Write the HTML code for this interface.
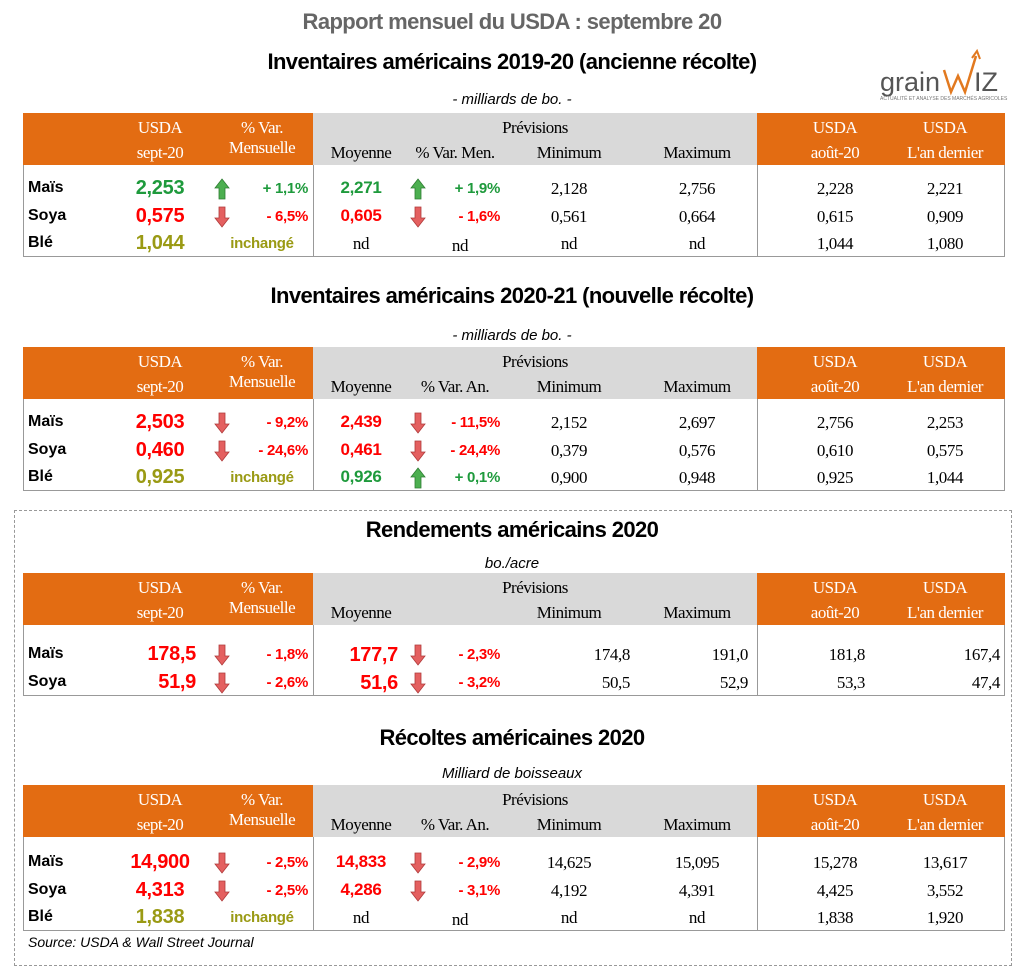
<!DOCTYPE html>
<html><head><meta charset="utf-8"><style>
body{margin:0;width:1024px;height:980px;background:#fff;position:relative;overflow:hidden;font-family:"Liberation Sans",sans-serif}
.a{position:absolute;white-space:nowrap;line-height:1}
.t{font-weight:bold;font-size:22px;color:#000;letter-spacing:-0.6px;text-align:center;width:1024px;left:0}
.sub{font-style:italic;font-size:15px;color:#000;text-align:center;width:1024px;left:0}
.h{font-family:"Liberation Serif",serif;font-size:17px;letter-spacing:-0.5px}
.s{font-family:"Liberation Serif",serif;font-size:17px;color:#000;letter-spacing:-0.4px}
.m{font-weight:bold;font-size:20px;letter-spacing:-0.3px}
.p{font-weight:bold;font-size:15px;letter-spacing:-0.3px}
.lbl{font-weight:bold;font-size:16px;color:#000}
</style></head><body>
<div class="a t" style="top:11px;color:#666">Rapport mensuel du USDA : septembre 20</div>
<div style="position:absolute;left:14px;top:510px;width:998px;height:456px;border:1px dashed #999;box-sizing:border-box"></div>
<div style="position:absolute;left:878px;top:46px;width:130px;height:60px">
<svg width="130" height="60"><polyline points="66,24 73,46 80,30 87,46 98,10" fill="none" stroke="#e2791f" stroke-width="2.5"/><polyline points="94,12 99,5 102,13" fill="none" stroke="#e2791f" stroke-width="2"/>
<text x="2" y="45" font-family="Liberation Sans" font-size="27" fill="#555">grain</text><text x="96" y="45" font-family="Liberation Sans" font-size="27" fill="#555">IZ</text>
<text x="2" y="54" font-family="Liberation Sans" font-size="5" fill="#777">ACTUALITÉ ET ANALYSE DES MARCHÉS AGRICOLES</text></svg></div>
<div class="a" style="left:28px;top:935px;font-style:italic;font-size:14px">Source: USDA &amp; Wall Street Journal</div>
<script>
var titles=["Inventaires américains 2019-20 (ancienne récolte)","Inventaires américains 2020-21 (nouvelle récolte)","Rendements américains 2020","Récoltes américaines 2020"];
var subtitles=["- milliards de bo. -","- milliards de bo. -","bo./acre","Milliard de boisseaux"];
var varLabels=["% Var. Men.","% Var. An.","","% Var. An."];
var labels=[["Maïs","Soya","Blé"],["Maïs","Soya","Blé"],["Maïs","Soya"],["Maïs","Soya","Blé"]];
var usda=[["2,253","0,575","1,044"],["2,503","0,460","0,925"],["178,5","51,9"],["14,900","4,313","1,838"]];
var usdaVar=[["+ 1,1%","- 6,5%","inchangé"],["- 9,2%","- 24,6%","inchangé"],["- 1,8%","- 2,6%"],["- 2,5%","- 2,5%","inchangé"]];
var moy=[["2,271","0,605","nd"],["2,439","0,461","0,926"],["177,7","51,6"],["14,833","4,286","nd"]];
var moyVar=[["+ 1,9%","- 1,6%","nd"],["- 11,5%","- 24,4%","+ 0,1%"],["- 2,3%","- 3,2%"],["- 2,9%","- 3,1%","nd"]];
var mins=[["2,128","0,561","nd"],["2,152","0,379","0,900"],["174,8","50,5"],["14,625","4,192","nd"]];
var maxs=[["2,756","0,664","nd"],["2,697","0,576","0,948"],["191,0","52,9"],["15,095","4,391","nd"]];
var aout=[["2,228","0,615","1,044"],["2,756","0,610","0,925"],["181,8","53,3"],["15,278","4,425","1,838"]];
var lastYr=[["2,221","0,909","1,080"],["2,253","0,575","1,044"],["167,4","47,4"],["13,617","3,552","1,920"]];
var tops=[113,347,573,785];
var titleY=[62,296,530,738];
var subY=[100,336,564,774];
var rowH=[27.5,27.5,27.5,27.5];
var firstRow=[189,423,655,863];

var GREEN="#1e9a3c",RED="#ff0000",OLIVE="#9a9a14";
function col(v){if(v==="inchangé")return OLIVE;if(v.charAt(0)==="+")return GREEN;return RED;}
function mk(cls,txt,x,y,w,align,color,name){
 var d=document.createElement('div');d.className='a '+cls;d.textContent=txt;
 d.style.left=(align==='center'?x-w/2:(align==='right'?x-w:x))+'px';d.style.top=y+'px';d.style.width=w+'px';d.style.textAlign=align;
 if(color)d.style.color=color;
 
 
 document.body.appendChild(d);return d;}
function box(x,y,w,h,bg,name,extra){var d=document.createElement('div');d.style.cssText='position:absolute;left:'+x+'px;top:'+y+'px;width:'+w+'px;height:'+h+'px;background:'+bg+';'+(extra||'');
 
 
 document.body.appendChild(d);return d;}
function arrow(x,y,up,name){var ns="http://www.w3.org/2000/svg";var s=document.createElementNS(ns,'svg');s.setAttribute('width','16');s.setAttribute('height','22');s.style.cssText='position:absolute;left:'+(x-8)+'px;top:'+(y-1)+'px';
 var p=document.createElementNS(ns,'polygon');p.setAttribute('points',up?'8,1 15,10 11,10 11,21 5,21 5,10 1,10':'8,21 15,12 11,12 11,1 5,1 5,12 1,12');
 p.setAttribute('fill',up?'#4caf50':'#e46060');p.setAttribute('stroke',up?'#2e7d32':'#b03a3a');p.setAttribute('stroke-width','0.8');s.appendChild(p);
 
 
 document.body.appendChild(s);}
for(var t=0;t<4;t++){
 var T=tops[t];
 mk('t',titles[t],512,titleY[t]-11,1024,'center','#000','section-title');
 mk('sub',subtitles[t],512,subY[t]-8,1024,'center','#000','section-subtitle');
 box(23,T,290,52,'#e36c12','header-orange-left');
 box(313,T,444,52,'#d9d9d9','header-gray');
 box(757,T,248,52,'#e36c12','header-orange-right');
 var n=labels[t].length;var bodyB=firstRow[t]+rowH[t]*(n-1)+13;
 box(23,T+52,982,bodyB-T-52,'transparent','table-body','border:1px solid #999;border-top:none;box-sizing:border-box;');
 box(313,T+52,1,bodyB-T-52,'#999','divider-left');
 box(757,T+52,1,bodyB-T-52,'#999','divider-right');
 var y1=T+6,y2=T+31;
 mk('h','USDA',160,y1,100,'center','#fff','header-usda');
 mk('h','sept-20',160,y2,100,'center','#fff','header-sept');
 mk('h','% Var.',262,y1,100,'center','#fff','header-var');
 mk('h','Mensuelle',262,y2-5,100,'center','#fff','header-mensuelle');
 mk('h','Prévisions',535,y1,150,'center','#000','header-previsions');
 mk('h','Moyenne',361,y2,100,'center','#000','header-moyenne');
 if(varLabels[t])mk('h',varLabels[t],455,y2,110,'center','#000','header-var-prev');
 mk('h','Minimum',569,y2,100,'center','#000','header-minimum');
 mk('h','Maximum',697,y2,100,'center','#000','header-maximum');
 mk('h','USDA',835,y1,100,'center','#fff','header-usda-aout');
 mk('h','août-20',835,y2,100,'center','#fff','header-aout');
 mk('h','USDA',945,y1,100,'center','#fff','header-usda-last');
 mk('h',"L'an dernier",945,y2,110,'center','#fff','header-last-year');
 for(var r=0;r<n;r++){
  var cy=firstRow[t]+rowH[t]*r;
  mk('lbl',labels[t][r],28,cy-9,60,'left','#000','row-label');
  var uv=usdaVar[t][r],mv=moyVar[t][r];
  var uc=col(uv);
  var mainC=(r===n-1&&uv==="inchangé")?OLIVE:uc;
  if(t===2)mk('m',usda[t][r],196,cy-11,120,'right',mainC,'usda-value');
  else mk('m',usda[t][r],160,cy-11,120,'center',mainC,'usda-value');
  if(uv==="inchangé")mk('p',uv,262,cy-8,100,'center',OLIVE,'usda-var');
  else{arrow(222,cy-10,uv.charAt(0)==="+",'usda-arrow');mk('p',uv,308,cy-8,100,'right',uc,'usda-var');}
  if(moy[t][r]==="nd"){
   mk('s','nd',361,cy-9,60,'center','#000','avg-value');
   mk('s','nd',460,cy-7,60,'center','#000','avg-var');
  } else {
   var mc=col(mv);
   if(t===2)mk('m',moy[t][r],398,cy-10,100,'right',mc,'avg-value');
   else mk('m',moy[t][r],361,cy-10,100,'center',mc,'avg-value').style.fontSize='17px';
   arrow(418,cy-10,mv.charAt(0)==="+",'avg-arrow');
   mk('p',mv,500,cy-8,100,'right',mc,'avg-var');
  }
  if(t===2){
   mk('s',mins[t][r],630,cy-9,100,'right','#000','min-value');
   mk('s',maxs[t][r],748,cy-9,100,'right','#000','max-value');
   mk('s',aout[t][r],865,cy-9,100,'right','#000','aout-value');
   mk('s',lastYr[t][r],1000,cy-9,100,'right','#000','last-year-value');
  } else {
   mk('s',mins[t][r],569,cy-9,100,'center','#000','min-value');
   mk('s',maxs[t][r],697,cy-9,100,'center','#000','max-value');
   mk('s',aout[t][r],835,cy-9,100,'center','#000','aout-value');
   mk('s',lastYr[t][r],945,cy-9,100,'center','#000','last-year-value');
  }
 }
}
</script>
</body></html>
